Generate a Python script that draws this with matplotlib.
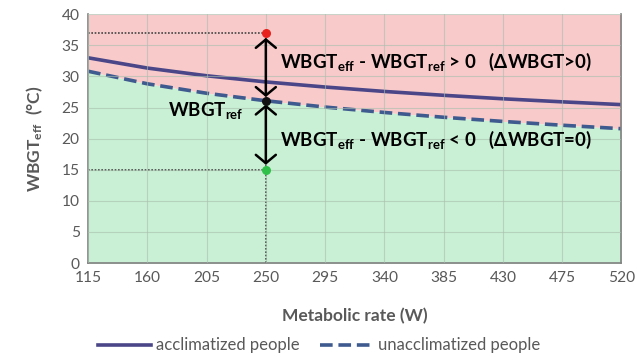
import matplotlib.pyplot as plt

plt.rcParams['font.family'] = ['Lato', 'DejaVu Sans']
plt.rcParams['mathtext.default'] = 'regular'

# metabolic rate (W) and reference WBGT values
rate = [115, 160, 205, 250, 295, 340, 385, 430, 475, 520]
accl = [33.0, 31.35, 30.11, 29.12, 28.3, 27.59, 26.97, 26.41, 25.92, 25.47]
unaccl = [30.84, 28.82, 27.3, 26.09, 25.08, 24.21, 23.44, 22.77, 22.16, 21.6]

# example points at M = 250 W
m_ex = 250
wbgt_high = 37
wbgt_ref = 26.09
wbgt_low = 15

grey = '#595959'

fig = plt.figure(figsize=(6.38, 3.56), dpi=100)
ax = fig.add_axes([0.138, 0.261, 0.836, 0.699])

ax.fill_between(rate, unaccl, 40, color='#f8caca', lw=0)
ax.fill_between(rate, 0, unaccl, color='#c9f0d4', lw=0)

ax.plot(rate, accl, color='#4a4688', lw=2.6, label='acclimatized people')
ax.plot(rate, unaccl, color='#3e5a8e', lw=2.6, ls=(0, (3.5, 1.6)),
        label='unacclimatized people')

# dotted guide lines
ax.plot([m_ex, m_ex], [0, wbgt_high], color='#444444', lw=1.2, ls=(0, (1, 1)))
ax.plot([rate[0], m_ex], [wbgt_high, wbgt_high], color='#444444', lw=1.2, ls=(0, (1, 1)))
ax.plot([rate[0], m_ex], [wbgt_low, wbgt_low], color='#444444', lw=1.2, ls=(0, (1, 1)))

ax.scatter([m_ex], [wbgt_high], color='#e8211d', s=30, zorder=5)
ax.scatter([m_ex], [wbgt_ref], color='#111111', s=30, zorder=5)
ax.scatter([m_ex], [wbgt_low], color='#2fc04a', s=30, zorder=5)

arrow = dict(arrowstyle='<->,head_length=0.3,head_width=0.36', color='black', lw=1.8,
             mutation_scale=20, shrinkA=0, shrinkB=0)
ax.annotate('', xy=(m_ex, wbgt_high - 0.8), xytext=(m_ex, wbgt_ref + 0.6), arrowprops=arrow)
ax.annotate('', xy=(m_ex, wbgt_ref - 0.6), xytext=(m_ex, wbgt_low + 0.8), arrowprops=arrow)

ax.text(261, 32.3, r'WBGT$_{eff}$ - WBGT$_{ref}$ > 0   (ΔWBGT>0)', fontsize=13.5,
        fontweight='bold', va='center', ha='left')
ax.text(261, 19.8, r'WBGT$_{eff}$ - WBGT$_{ref}$ < 0   (ΔWBGT=0)', fontsize=13.5,
        fontweight='bold', va='center', ha='left')
ax.text(176, 24.6, r'WBGT$_{ref}$', fontsize=13.5, fontweight='bold', va='center', ha='left')

ax.set_xlim(115, 520)
ax.set_ylim(0, 40)
ax.set_xticks(rate)
ax.set_yticks(range(0, 41, 5))
ax.grid(True, color='#a9bfae', lw=0.8, alpha=0.6)
ax.set_axisbelow(False)
for line in ax.get_xgridlines() + ax.get_ygridlines():
    line.set_zorder(0.5)

for side in ['left', 'bottom', 'right']:
    ax.spines[side].set_color('#808080')
    ax.spines[side].set_linewidth(1.2)
ax.spines['top'].set_visible(False)
ax.tick_params(length=0, labelsize=11.2, labelcolor=grey, pad=6)

ax.set_xlabel('Metabolic rate (W)', fontsize=12.5, fontweight='bold', color=grey, labelpad=16)
ax.set_ylabel(r'WBGT$_{eff}$  (°C)', fontsize=12.5, fontweight='bold', color=grey, labelpad=12)

fig.legend(loc='lower center', bbox_to_anchor=(0.5, -0.035), ncol=2, frameon=False,
           fontsize=12, labelcolor=grey, handlelength=3.2, handletextpad=0.3,
           columnspacing=1.2)

fig.savefig('out.png', dpi=100)
